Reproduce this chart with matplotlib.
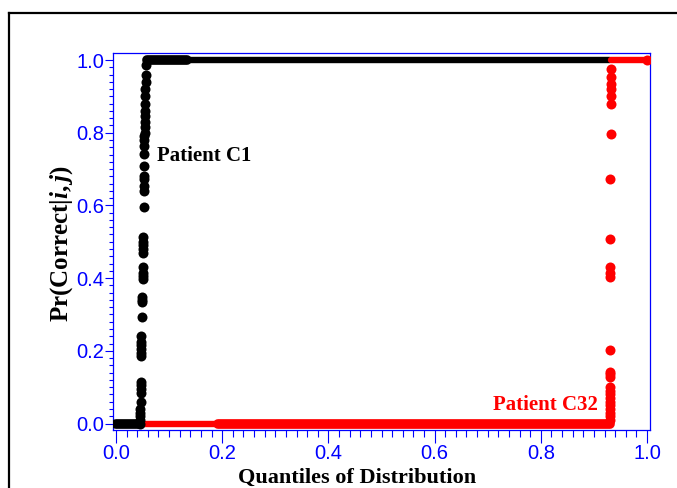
import matplotlib
matplotlib.use("Agg")
import matplotlib.pyplot as plt
from matplotlib.lines import Line2D
from matplotlib.ticker import MultipleLocator

plt.rcParams['mathtext.fontset'] = 'custom'
plt.rcParams['mathtext.rm'] = 'Liberation Serif:bold'
plt.rcParams['mathtext.bf'] = 'Liberation Serif:bold'
plt.rcParams['mathtext.it'] = 'Liberation Serif:bold:italic'

# Patient C1: horizontal runs (start quantile, end quantile, probability, weight)
c1_runs_start = [0.000, 0.058, 0.134]
c1_runs_end = [0.045, 0.134, 0.930]
c1_runs_prob = [0.0, 1.0, 1.0]
c1_runs_heavy = [True, True, False]

# Patient C1: points on the steep rise
c1_rise_q = [0.045, 0.045, 0.045, 0.046, 0.046, 0.047, 0.047, 0.047, 0.047, 0.047,
             0.048, 0.048, 0.048, 0.048, 0.048, 0.048, 0.049, 0.049, 0.049, 0.049,
             0.050, 0.050, 0.050, 0.050, 0.051, 0.051, 0.051, 0.051, 0.051, 0.052,
             0.052, 0.052, 0.052, 0.053, 0.053, 0.053, 0.053, 0.053, 0.053, 0.054,
             0.054, 0.054, 0.054, 0.055, 0.055, 0.055, 0.055, 0.056, 0.056, 0.057]
c1_rise_p = [0.000, 0.010, 0.020, 0.030, 0.040, 0.060, 0.085, 0.095, 0.105, 0.113,
             0.185, 0.195, 0.205, 0.215, 0.225, 0.240, 0.292, 0.333, 0.340, 0.347,
             0.397, 0.405, 0.415, 0.430, 0.470, 0.480, 0.490, 0.500, 0.512, 0.595,
             0.640, 0.653, 0.672, 0.680, 0.708, 0.741, 0.763, 0.780, 0.790, 0.800,
             0.815, 0.830, 0.845, 0.860, 0.880, 0.900, 0.920, 0.940, 0.960, 0.985]

# Patient C32: horizontal runs
c32_runs_start = [0.050, 0.192, 0.932]
c32_runs_end = [0.192, 0.930, 1.000]
c32_runs_prob = [0.0, 0.0, 1.0]
c32_runs_heavy = [False, True, False]

# Patient C32: points on the steep rise (plus the final point)
c32_rise_q = [0.930, 0.930, 0.930, 0.930, 0.930, 0.930, 0.930, 0.930, 0.930, 0.930,
              0.931, 0.931, 0.931, 0.931, 0.931, 0.931, 0.931, 0.931, 0.931, 0.932,
              0.932, 0.932, 0.932, 0.932, 0.932, 0.932, 1.000]
c32_rise_p = [0.010, 0.020, 0.030, 0.040, 0.050, 0.060, 0.070, 0.080, 0.090, 0.100,
              0.127, 0.135, 0.143, 0.201, 0.402, 0.415, 0.430, 0.507, 0.672, 0.796,
              0.879, 0.900, 0.920, 0.935, 0.953, 0.975, 1.000]

x_ticks = [0.0, 0.2, 0.4, 0.6, 0.8, 1.0]
y_ticks = [0.0, 0.2, 0.4, 0.6, 0.8, 1.0]
tick_labels = ['0.0', '0.2', '0.4', '0.6', '0.8', '1.0']

BLUE = '#0000ff'
SERIF = 'Liberation Serif'
SANS = 'Liberation Sans'

fig = plt.figure(figsize=(6.77, 4.88), dpi=100)
ax = fig.add_axes([113 / 677, 1 - 429.5 / 488, 537 / 677, 376.2 / 488])

HEAVY_LW = 7.0
LIGHT_LW = 4.6
MS = 7.2


def draw_series(starts, ends, probs, heavy, rise_q, rise_p, color):
    for s, e, p, h in zip(starts, ends, probs, heavy):
        ax.plot([s, e], [p, p], color=color, lw=HEAVY_LW if h else LIGHT_LW,
                solid_capstyle='round', zorder=3)
    ax.plot(rise_q, rise_p, linestyle='none', marker='o', ms=MS,
            color=color, markeredgewidth=0, zorder=4)


draw_series(c1_runs_start, c1_runs_end, c1_runs_prob, c1_runs_heavy,
            c1_rise_q, c1_rise_p, 'black')
draw_series(c32_runs_start, c32_runs_end, c32_runs_prob, c32_runs_heavy,
            c32_rise_q, c32_rise_p, '#ff0000')

ax.set_xlim(-3 / 531, 1 + 3 / 531)
ax.set_ylim(-6 / 363.5, 1 + 6.7 / 363.5)

ax.set_xticks(x_ticks)
ax.set_xticklabels(tick_labels)
ax.set_yticks(y_ticks)
ax.set_yticklabels(tick_labels)
ax.xaxis.set_minor_locator(MultipleLocator(0.02))
ax.yaxis.set_minor_locator(MultipleLocator(0.02))

for sp in ax.spines.values():
    sp.set_color(BLUE)
    sp.set_linewidth(0.9)

ax.tick_params(axis='x', which='major', length=9, width=0.8, color=BLUE,
               labelcolor=BLUE, pad=1.5)
ax.tick_params(axis='x', which='minor', length=5, width=0.8, color=BLUE)
ax.tick_params(axis='y', which='major', length=6, width=0.8, color=BLUE,
               labelcolor=BLUE, pad=0.5)
ax.tick_params(axis='y', which='minor', length=3, width=0.8, color=BLUE)
for lab in ax.get_xticklabels() + ax.get_yticklabels():
    lab.set_fontfamily(SANS)
    lab.set_fontsize(14.5)

ax.text(0.077, 0.735, 'Patient C1', fontfamily=SERIF, fontweight='bold',
        fontsize=15, color='black', ha='left', va='center')
ax.text(0.907, 0.05, 'Patient C32', fontfamily=SERIF, fontweight='bold',
        fontsize=15, color='#ff0000', ha='right', va='center')

fig.text(357 / 677, 1 - 483 / 488, 'Quantiles of Distribution', fontfamily=SERIF,
         fontweight='bold', fontsize=16, ha='center', va='baseline')
fig.text(62 / 677, 1 - 244 / 488, r'Pr(Correct|$i,j$)', fontfamily=SERIF,
         fontweight='bold', fontsize=18, rotation=90, ha='center', va='center')

# outer frame around the figure content
x0 = 8.5 / 677
y0 = 1 - 12.5 / 488
fig.add_artist(Line2D([x0, x0], [-0.1, y0], transform=fig.transFigure,
                      color='black', lw=1.6))
fig.add_artist(Line2D([x0, 1.1], [y0, y0], transform=fig.transFigure,
                      color='black', lw=1.6))

fig.savefig('out.png', dpi=100)
